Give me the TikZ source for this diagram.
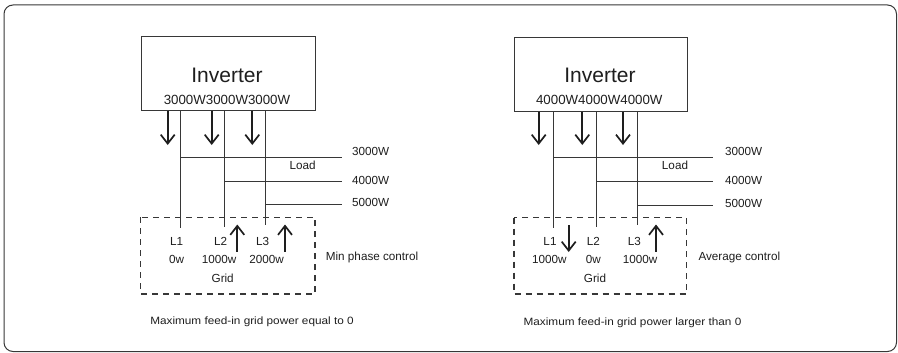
\documentclass[tikz,border=0pt]{standalone}
\usepackage{fontspec}
\usepackage{graphicx}
\setmainfont{Liberation Sans}
\usetikzlibrary{arrows.meta}
\definecolor{lc}{RGB}{55,55,55}
\definecolor{tc}{RGB}{30,30,30}
\tikzset{
  wire/.style={draw=lc, line width=1pt},
  arr/.style={draw=tc, line width=1.7pt, -{Straight Barb[length=9pt,width=14pt]}},
  lbl/.style={inner sep=0pt, text=tc, font=\fontsize{11.7}{12}\selectfont},
  lbll/.style={lbl, anchor=west},
  invbox/.style={draw=lc, line width=1.1pt, minimum width=173.5pt, minimum height=74pt, inner sep=0pt},
  gridbox/.style={draw=lc, line width=1.1pt, dash pattern=on 6pt off 5pt},
  big/.style={inner sep=0pt, text=tc, font=\fontsize{21}{22}\selectfont},
  pw/.style={inner sep=0pt, text=tc, font=\fontsize{13.3}{14}\selectfont},
  foot/.style={inner sep=0pt, text=tc, font=\fontsize{10.6}{12}\selectfont},
}
\begin{document}
\begin{tikzpicture}[x=1pt,y=-1pt]
\useasboundingbox (0,0) rectangle (898,353);
\draw[draw=lc, line width=1pt, rounded corners=9pt] (4,5) rectangle (896.5,351.5);

% ---------------- left ----------------
\node[invbox] (invA) at (228.35,73.7) {};
\node[big] (invAt) at (227,75) {Inverter};
\node[pw] (invAp) at (227,100) {3000W3000W3000W};
\coordinate (aA1s) at (167.7,110.7); \coordinate (aA1e) at (167.7,145);
\coordinate (aA2s) at (211.7,110.7); \coordinate (aA2e) at (211.7,145);
\coordinate (aA3s) at (252.3,110.7); \coordinate (aA3e) at (252.3,145);
\draw[arr] (aA1s) -- (aA1e);
\draw[arr] (aA2s) -- (aA2e);
\draw[arr] (aA3s) -- (aA3e);
\coordinate (vA1t) at (180.3,110.7); \coordinate (vA1b) at (180.3,228);
\coordinate (vA2t) at (224.3,110.7); \coordinate (vA2b) at (224.3,226.7);
\coordinate (vA3t) at (265,110.7);   \coordinate (vA3b) at (265,225);
\draw[wire] (vA1t) -- (vA1b);
\draw[wire] (vA2t) -- (vA2b);
\draw[wire] (vA3t) -- (vA3b);
\coordinate (hA1s) at (180.3,157.3); \coordinate (hA1e) at (341.7,157.3);
\coordinate (hA2s) at (224.3,181);   \coordinate (hA2e) at (341.7,181);
\coordinate (hA3s) at (265,204.3);   \coordinate (hA3e) at (341.7,204.3);
\draw[wire] (hA1s) -- (hA1e);
\draw[wire] (hA2s) -- (hA2e);
\draw[wire] (hA3s) -- (hA3e);
\node[lbll] (lA1) at (352,151) {3000W};
\node[lbll] (lA2) at (352,180) {4000W};
\node[lbll] (lA3) at (352,202.5) {5000W};
\node[lbl] (loadA) at (302.7,165) {Load};
\draw[gridbox] (140.7,217.3) rectangle (315,294);
\node[lbl] (LA1) at (176.7,241.7) {L1};
\node[lbl] (LA2) at (220.7,241.7) {L2};
\node[lbl] (LA3) at (262.7,241.7) {L3};
\node[lbl] (wA1) at (176.7,259.3) {0w};
\node[lbl] (wA2) at (219,259.3) {1000w};
\node[lbl] (wA3) at (266.7,259.3) {2000w};
\node[lbl] (gA) at (222.7,278.3) {Grid};
\coordinate (uA1s) at (237.3,251.7); \coordinate (uA1e) at (237.3,224.5);
\coordinate (uA2s) at (285,251.7);   \coordinate (uA2e) at (285,224.5);
\draw[arr] (uA1s) -- (uA1e);
\draw[arr] (uA2s) -- (uA2e);
\node[lbll] (ctlA) at (325.7,257.3) {Min phase control};
\node[foot] (fA) at (252,322) {\scalebox{1.11}[1]{Maximum feed-in grid power equal to 0}};

% ---------------- right ----------------
\node[invbox] (invB) at (600.85,74.2) {};
\node[big] (invBt) at (600,75) {Inverter};
\node[pw] (invBp) at (599.3,100) {4000W4000W4000W};
\coordinate (aB1s) at (538.7,111.7); \coordinate (aB1e) at (538.7,145);
\coordinate (aB2s) at (582.3,111.7); \coordinate (aB2e) at (582.3,145);
\coordinate (aB3s) at (623,111.7);   \coordinate (aB3e) at (623,145);
\draw[arr] (aB1s) -- (aB1e);
\draw[arr] (aB2s) -- (aB2e);
\draw[arr] (aB3s) -- (aB3e);
\coordinate (vB1t) at (553,111.7);   \coordinate (vB1b) at (553,228);
\coordinate (vB2t) at (596.7,111.7); \coordinate (vB2b) at (596.7,227);
\coordinate (vB3t) at (637.7,111.7); \coordinate (vB3b) at (637.7,225);
\draw[wire] (vB1t) -- (vB1b);
\draw[wire] (vB2t) -- (vB2b);
\draw[wire] (vB3t) -- (vB3b);
\coordinate (hB1s) at (553,157.7);   \coordinate (hB1e) at (713.3,157.7);
\coordinate (hB2s) at (596.7,181.7); \coordinate (hB2e) at (713.3,181.7);
\coordinate (hB3s) at (637.7,205);   \coordinate (hB3e) at (713.3,205);
\draw[wire] (hB1s) -- (hB1e);
\draw[wire] (hB2s) -- (hB2e);
\draw[wire] (hB3s) -- (hB3e);
\node[lbll] (lB1) at (725,151.5) {3000W};
\node[lbll] (lB2) at (725,180.5) {4000W};
\node[lbll] (lB3) at (725,203) {5000W};
\node[lbl] (loadB) at (675,165) {Load};
\draw[gridbox] (514,217.7) rectangle (686.7,294);
\node[lbl] (LB1) at (550,241.7) {L1};
\node[lbl] (LB2) at (593.3,241.7) {L2};
\node[lbl] (LB3) at (634.3,241.7) {L3};
\node[lbl] (wB1) at (549.3,259.3) {1000w};
\node[lbl] (wB2) at (593.3,259.3) {0w};
\node[lbl] (wB3) at (640,259.3) {1000w};
\node[lbl] (gB) at (595,278.3) {Grid};
\coordinate (dB1s) at (568.7,225);   \coordinate (dB1e) at (568.7,252);
\coordinate (uB2s) at (656,251.7);   \coordinate (uB2e) at (656,224.5);
\draw[arr] (dB1s) -- (dB1e);
\draw[arr] (uB2s) -- (uB2e);
\node[lbll] (ctlB) at (698.3,257.3) {Average control};
\node[foot] (fB) at (632.5,323) {\scalebox{1.11}[1]{Maximum feed-in grid power larger than 0}};
\end{tikzpicture}
\end{document}
